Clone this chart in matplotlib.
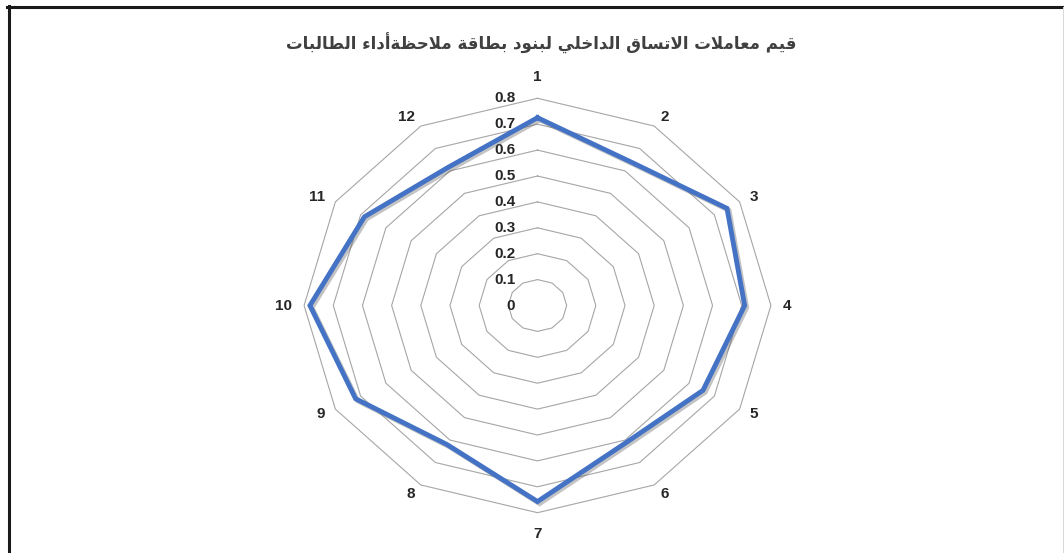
import numpy as np
import matplotlib
matplotlib.use('Agg')
from matplotlib import pyplot as plt
import matplotlib.patheffects as pe
from matplotlib.lines import Line2D

# data
items = ['1', '2', '3', '4', '5', '6', '7', '8', '9', '10', '11', '12']
values = [0.725, 0.64, 0.75, 0.71, 0.655, 0.61, 0.757, 0.62, 0.72, 0.78, 0.685, 0.615]
levels = [0, 0.1, 0.2, 0.3, 0.4, 0.5, 0.6, 0.7, 0.8]
level_labels = ['0', '0.1', '0.2', '0.3', '0.4', '0.5', '0.6', '0.7', '0.8']
title = 'قيم معاملات الاتساق الداخلي لبنود بطاقة ملاحظةأداء الطالبات'

###################################
## minimal arabic shaping (no reshaper lib in sandbox)
###################################
# isolated, final, initial, medial
FORMS = {
    'ء': ('\uFE80', None, None, None),
    'أ': ('\uFE83', '\uFE84', None, None),
    'ا': ('\uFE8D', '\uFE8E', None, None),
    'ب': ('\uFE8F', '\uFE90', '\uFE91', '\uFE92'),
    'ة': ('\uFE93', '\uFE94', None, None),
    'ت': ('\uFE95', '\uFE96', '\uFE97', '\uFE98'),
    'ح': ('\uFEA1', '\uFEA2', '\uFEA3', '\uFEA4'),
    'خ': ('\uFEA5', '\uFEA6', '\uFEA7', '\uFEA8'),
    'د': ('\uFEA9', '\uFEAA', None, None),
    'س': ('\uFEB1', '\uFEB2', '\uFEB3', '\uFEB4'),
    'ط': ('\uFEC1', '\uFEC2', '\uFEC3', '\uFEC4'),
    'ظ': ('\uFEC5', '\uFEC6', '\uFEC7', '\uFEC8'),
    'ع': ('\uFEC9', '\uFECA', '\uFECB', '\uFECC'),
    'ق': ('\uFED5', '\uFED6', '\uFED7', '\uFED8'),
    'ل': ('\uFEDD', '\uFEDE', '\uFEDF', '\uFEE0'),
    'م': ('\uFEE1', '\uFEE2', '\uFEE3', '\uFEE4'),
    'ن': ('\uFEE5', '\uFEE6', '\uFEE7', '\uFEE8'),
    'و': ('\uFEED', '\uFEEE', None, None),
    'ي': ('\uFEF1', '\uFEF2', '\uFEF3', '\uFEF4'),
}
LAM_ALEF = {'ا': ('\uFEFB', '\uFEFC'), 'أ': ('\uFEF7', '\uFEF8')}

def dual(c):
    return c in FORMS and FORMS[c][2] is not None

def joining(c):
    return c in FORMS and FORMS[c][1] is not None

def shape(text):
    out = []
    i = 0
    n = len(text)
    while i < n:
        c = text[i]
        prev = text[i-1] if i > 0 else ' '
        join_prev = dual(prev) and joining(c)
        if c == 'ل' and i + 1 < n and text[i+1] in LAM_ALEF:
            out.append(LAM_ALEF[text[i+1]][1 if join_prev else 0])
            i += 2
            continue
        if c not in FORMS:
            out.append(c)
            i += 1
            continue
        nxt = text[i+1] if i + 1 < n else ' '
        join_next = dual(c) and joining(nxt)
        iso, fin, ini, med = FORMS[c]
        if join_prev and join_next:
            out.append(med)
        elif join_prev:
            out.append(fin)
        elif join_next:
            out.append(ini)
        else:
            out.append(iso)
        i += 1
    return ''.join(out)[::-1]

###################################
## figure
###################################
W, H = 1064, 553
fig = plt.figure(figsize=(W/100, H/100), dpi=100)

cx, cy = 537.5, 305.5        # centre in px (from top)
rx, ry = 233.4, 207.2        # outer ring half sizes (chart is stretched)
ax = fig.add_axes([(cx - rx)/W, (H - cy - ry)/H, 2*rx/W, 2*ry/H], projection='polar')
ax.set_aspect('auto')
ax.set_theta_zero_location('N')
ax.set_theta_direction(-1)
ax.set_ylim(0, levels[-1])
ax.grid(False)
ax.set_xticks([])
ax.set_yticks([])
ax.spines['polar'].set_visible(False)
ax.patch.set_alpha(0)

N = len(items)
theta = np.arange(N) * 2*np.pi/N
theta_c = np.append(theta, theta[0])

# polygon gridlines
for lv in levels[1:]:
    ax.plot(theta_c, [lv]*(N+1), color='#a6a6a6', lw=0.8, clip_on=False, zorder=1)

lab_kw = dict(fontsize=11, fontweight='bold', color='#262626', family='Liberation Sans')

# radial value labels
for lv, lab in zip(levels, level_labels):
    ax.annotate(lab, xy=(0, lv), xytext=(-16, 0), textcoords='offset points',
                ha='right', va='center', annotation_clip=False, **lab_kw)

# category labels, excel style: left/right aligned beside the ring
for t, lab in zip(theta, items):
    s = np.sin(t)
    if abs(s) < 1e-6:
        ax.text(t, 0.882, lab, ha='center', va='center', clip_on=False, **lab_kw)
    else:
        ax.text(t, 0.84, lab, ha='left' if s > 0 else 'right', va='center',
                clip_on=False, **lab_kw)

vals_c = np.append(values, values[0])
ax.plot(theta_c, vals_c, color='#4472C4', lw=3.5, clip_on=False, zorder=3,
        solid_joinstyle='miter',
        path_effects=[pe.SimpleLineShadow(offset=(1.5, -1.5), shadow_color='#555555', alpha=0.35),
                      pe.Normal()])

fig.text(541.5/W, 1 - 43/H, shape(title), ha='center', va='center', fontsize=12,
         fontweight='bold', color='#404040', family='DejaVu Sans')

# chart frame
fig.add_artist(Line2D([7/W, 1], [1 - 6.5/H, 1 - 6.5/H], transform=fig.transFigure, color='#1a1a1a', lw=2.2))
fig.add_artist(Line2D([8.5/W, 8.5/W], [0, 1 - 5.5/H], transform=fig.transFigure, color='#1a1a1a', lw=2.2))
fig.add_artist(Line2D([1062.5/W, 1062.5/W], [0, 1 - 6.5/H], transform=fig.transFigure, color='#d9d9d9', lw=0.8))

fig.savefig('out.png', dpi=100)
